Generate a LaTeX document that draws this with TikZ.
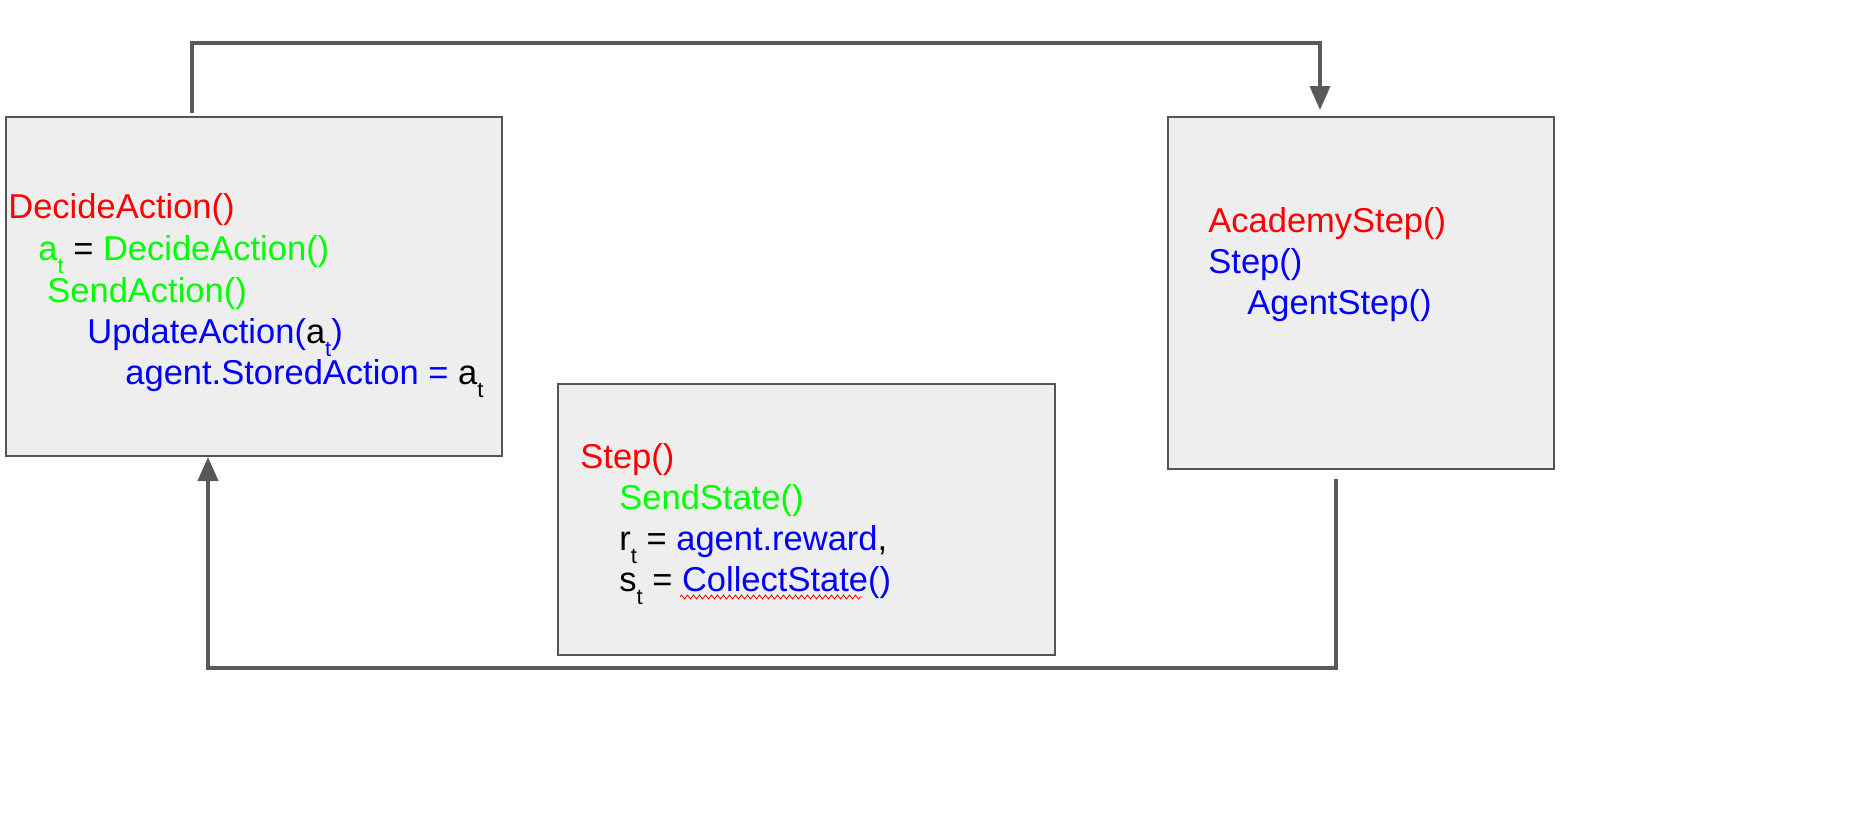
\documentclass[tikz,border=0pt]{standalone}
\usepackage{fontspec}
\setmainfont{Liberation Sans}
\usetikzlibrary{arrows.meta,decorations.pathmorphing}
\definecolor{boxfill}{HTML}{EEEEEE}
\definecolor{boxline}{HTML}{555555}
\definecolor{flowgray}{HTML}{595959}
\definecolor{fred}{HTML}{FF0000}
\definecolor{fgreen}{HTML}{00FF00}
\definecolor{fblue}{HTML}{0000FF}
\newcommand{\subt}{\raisebox{-6.5pt}{\fontsize{11}{11}\selectfont t}}
\tikzset{
  codebox/.style={draw=boxline,fill=boxfill,line width=0.75pt,inner sep=0pt,outer sep=0pt},
  codeline/.style={anchor=base west,inner sep=0pt,font=\fontsize{17.25}{20.5}\selectfont},
  flow/.style={draw=flowgray,line width=2pt,-{Triangle[width=10pt,length=12pt]}}
}
\begin{document}
\begin{tikzpicture}[x=0.5pt,y=-0.5pt]
    \useasboundingbox (0,0) rectangle (1859,827);
    % Boxes
    \node[codebox,minimum width=248pt,minimum height=169.5pt] (decide) at (254,286.5) {};
    \node[codebox,minimum width=193pt,minimum height=176pt] (academy) at (1361,293) {};
    \node[codebox,minimum width=248.5pt,minimum height=135.5pt] (step) at (806.5,519.5) {};
    % Left box text
    \node[codeline,text=fred] (dl1) at (8,218) {DecideAction()};
    \node[codeline] (dl2) at (38,260) {\textcolor{fgreen}{a\subt} = \textcolor{fgreen}{DecideAction()}};
    \node[codeline,text=fgreen] (dl3) at (47,302) {SendAction()};
    \node[codeline,text=fblue] (dl4) at (87,343) {UpdateAction(\textcolor{black}{a}\subt)};
    \node[codeline,text=fblue] (dl5) at (125,384) {agent.StoredAction = \textcolor{black}{a\subt}};
    % Middle box text
    \node[codeline,text=fred] (sl1) at (580,468) {Step()};
    \node[codeline,text=fgreen] (sl2) at (619,509) {SendState()};
    \node[codeline] (sl3) at (619,550) {r\subt{} = \textcolor{fblue}{agent.reward},};
    \node[codeline] (sl4) at (619,591) {s\subt{} = \textcolor{fblue}{CollectState()}};
    % Spell check mark
    \draw[fred,line width=0.4pt,decorate,decoration={zigzag,amplitude=1pt,segment length=3pt}] (680,597) -- (862,597);
    % Right box text
    \node[codeline,text=fred] (al1) at (1208,232) {AcademyStep()};
    \node[codeline,text=fblue] (al2) at (1208,273) {Step()};
    \node[codeline,text=fblue] (al3) at (1247,314) {AgentStep()};
    % Loop arrows
    \draw[flow] ([xshift=93pt,yshift=2pt]decide.north west) -- ++(0,-70) -| ([xshift=-20.5pt,yshift=3.5pt]academy.north);
    \draw[flow] ([xshift=-12.5pt,yshift=-5pt]academy.south) -- ++(0,189) -| ([xshift=-23pt,yshift=-0.5pt]decide.south);
\end{tikzpicture}
\end{document}
